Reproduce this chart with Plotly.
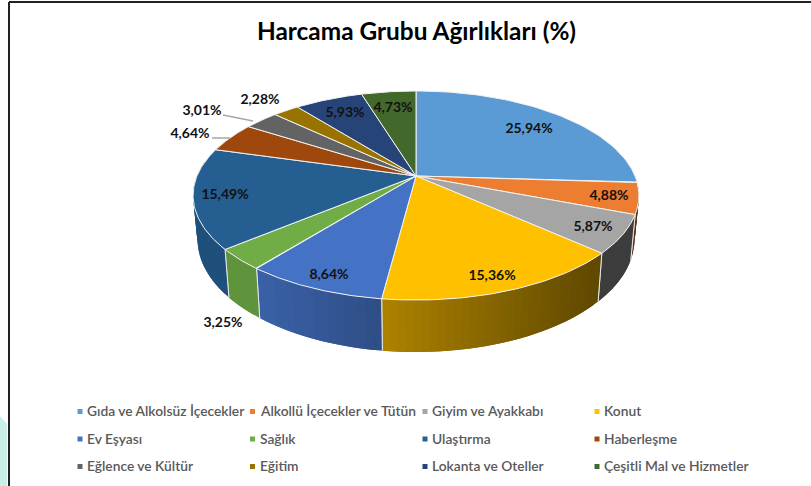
import math
import plotly.graph_objects as go

title = "Harcama Grubu Ağırlıkları (%)"
categories = ["Gıda ve Alkolsüz İçecekler", "Alkollü İçecekler ve Tütün", "Giyim ve Ayakkabı", "Konut",
              "Ev Eşyası", "Sağlık", "Ulaştırma", "Haberleşme",
              "Eğlence ve Kültür", "Eğitim", "Lokanta ve Oteller", "Çeşitli Mal ve Hizmetler"]
values = [25.94, 4.88, 5.87, 15.36, 8.64, 3.25, 15.49, 4.64, 3.01, 2.28, 5.93, 4.73]
value_labels = ["25,94%", "4,88%", "5,87%", "15,36%", "8,64%", "3,25%", "15,49%", "4,64%", "3,01%", "2,28%", "5,93%", "4,73%"]
colors = ["#5B9BD5", "#ED7D31", "#A5A5A5", "#FFC000", "#4472C4", "#70AD47",
          "#255E91", "#9E480E", "#636363", "#997300", "#264478", "#43682B"]

# layout constants (pixels)
W, H = 811, 486
CX, CY, A, B, K, D, TAPER = 416, 176, 219, 100.9, 0.1866, 42.3, 0.02
label_xy = [(529, 129), (609, 196), (593, 227), (492, 276), (329, 275), (223, 323),
            (225, 195), (190, 134), (202, 111), (260, 100), (345, 113), (393, 108)]
leaders = [((212, 138), (230, 138)), ((223, 115), (253, 121))]
legend_x = [80, 252.5, 425, 597]
legend_y = [411.5, 439, 466.5]


def proj(theta, r=1.0, z=0.0):
    u, v = r * math.sin(theta), -r * math.cos(theta)
    w = 1 - K * v
    return CX + A * u / w * (1 - TAPER * z), CY + (B * v + D * z) / w


def shade(hex_color, x):
    f = max(0.37, min(0.85, 0.85 - (x - 260) * 0.0014))
    rgb = [int(hex_color[i:i + 2], 16) for i in (1, 3, 5)]
    return "rgb(%d,%d,%d)" % tuple(round(c * f) for c in rgb)


fig = go.Figure()
total = sum(values)
bounds = [0.0]
for v in values:
    bounds.append(bounds[-1] + v / total * 2 * math.pi)


def arc(t0, t1, n, z=0.0):
    return [proj(t0 + (t1 - t0) * i / n, 1.0, z) for i in range(n + 1)]


# side walls with a horizontal gradient (only the front half is visible)
for i, c in enumerate(colors):
    t0, t1 = max(bounds[i], math.pi / 2 * 0.98), min(bounds[i + 1], math.pi * 1.55)
    if t1 <= t0:
        continue
    n = max(2, int((t1 - t0) / 0.03))
    top, bot = arc(t0, t1, n), arc(t0, t1, n, 1.0)
    for j in range(n):
        k = min(j + 2, n)  # overlap the next band so that no seams show
        poly = [top[j], top[k], bot[k], bot[j], top[j]]
        xmid = (top[j][0] + top[j + 1][0]) / 2
        col = shade(c, xmid)
        fig.add_trace(go.Scatter(x=[p[0] for p in poly], y=[p[1] for p in poly], mode="lines",
                                 fill="toself", fillcolor=col, line=dict(width=0),
                                 hoverinfo="skip", showlegend=False))
    edge_x = [top[0][0], bot[0][0], None, top[-1][0], bot[-1][0]]
    edge_y = [top[0][1], bot[0][1], None, top[-1][1], bot[-1][1]]
    fig.add_trace(go.Scatter(x=edge_x, y=edge_y, mode="lines", line=dict(color="#E8E8E8", width=1),
                             hoverinfo="skip", showlegend=False))

# top face
for i, c in enumerate(colors):
    pts = [(CX, CY)] + arc(bounds[i], bounds[i + 1], 60) + [(CX, CY)]
    fig.add_trace(go.Scatter(x=[p[0] for p in pts], y=[p[1] for p in pts], mode="lines", fill="toself",
                             fillcolor=c, line=dict(color="#F2F2F2", width=1),
                             name=categories[i], text=value_labels[i], hoverinfo="name+text", showlegend=False))

# leader lines
for a, b in leaders:
    fig.add_trace(go.Scatter(x=[a[0], b[0]], y=[a[1], b[1]], mode="lines",
                             line=dict(color="#A6A6A6", width=1.5), hoverinfo="skip", showlegend=False))

# value labels
fig.add_trace(go.Scatter(x=[p[0] for p in label_xy], y=[p[1] for p in label_xy], mode="text",
                         text=value_labels, textposition="middle center",
                         textfont=dict(family="Lato", size=14, color="#111111", weight="bold"),
                         hoverinfo="skip", showlegend=False))

# legend
for i, name in enumerate(categories):
    lx, ly = legend_x[i % 4], legend_y[i // 4]
    fig.add_trace(go.Scatter(x=[lx], y=[ly], mode="markers",
                             marker=dict(symbol="square", size=5, color=colors[i]),
                             hoverinfo="skip", showlegend=False))
    fig.add_annotation(x=lx + 5, y=ly - 1, text=name, showarrow=False, xanchor="left", yanchor="middle",
                       font=dict(family="Lato", size=13.8, color="#595959", weight=600))

fig.add_annotation(x=416, y=30, text="<b>%s</b>" % title, showarrow=False, xanchor="center", yanchor="middle",
                   font=dict(family="Lato", size=24.4, color="#000000"))

# frame and the pale corner outside it
fig.add_shape(type="path", path="M 0 416 L 7 424 L 7 486 L 0 486 Z", fillcolor="#C8F0E8", line=dict(width=0), layer="below")
fig.add_shape(type="line", x0=9, x1=9, y0=2, y1=H, line=dict(color="#222222", width=2))
fig.add_shape(type="line", x0=9, x1=W, y0=2, y1=2, line=dict(color="#222222", width=2))

fig.update_layout(width=W, height=H, margin=dict(l=0, r=0, t=0, b=0), paper_bgcolor="white", plot_bgcolor="white",
                  showlegend=False,
                  xaxis=dict(range=[0, W], visible=False, fixedrange=True),
                  yaxis=dict(range=[H, 0], visible=False, fixedrange=True))
fig.write_html("out.html", config=dict(displayModeBar=False),
               post_script="document.body.style.margin='0';document.documentElement.style.overflow='hidden';")
